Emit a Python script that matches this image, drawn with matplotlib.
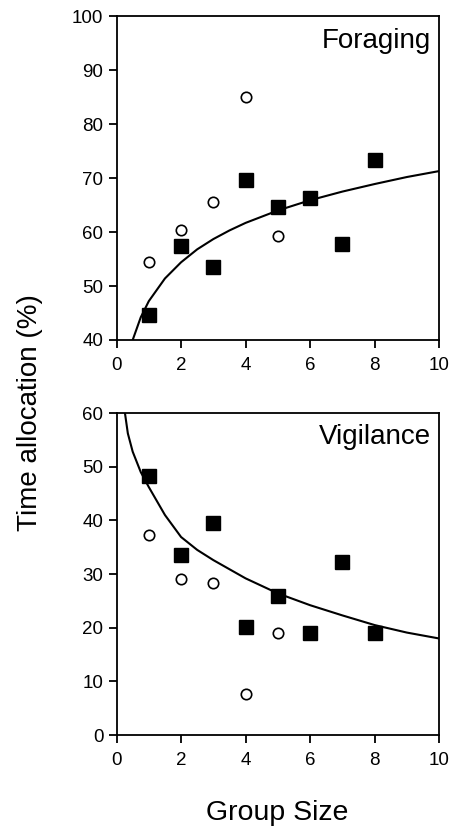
import matplotlib

matplotlib.use("Agg")
import matplotlib.pyplot as plt

plt.rcParams["font.family"] = ["Liberation Sans", "DejaVu Sans"]

group_size = [1, 2, 3, 4, 5, 6, 7, 8]
circle_size = [1, 2, 3, 4, 5]

forage_squares = [44.6, 57.4, 53.6, 69.6, 64.7, 66.4, 57.7, 73.3]
forage_circles = [54.4, 60.4, 65.5, 85.0, 59.2]
forage_curve_x = [0.5, 0.75, 1, 1.5, 2, 2.5, 3, 3.5, 4, 5, 6, 7, 8, 9, 10]
forage_curve_y = [40.0, 44.2, 47.2, 51.4, 54.4, 56.8, 58.7, 60.3, 61.7, 64.0, 65.9, 67.5, 68.9, 70.2, 71.3]

vigil_squares = [48.3, 33.6, 39.6, 20.2, 25.9, 19.0, 32.3, 19.0]
vigil_circles = [37.2, 29.0, 28.4, 7.6, 19.0]
vigil_curve_x = [0.26, 0.35, 0.5, 0.75, 1, 1.5, 2, 2.5, 3, 4, 5, 6, 7, 8, 9, 10]
vigil_curve_y = [60.0, 56.2, 52.8, 49.0, 46.2, 41.0, 36.9, 34.5, 32.6, 29.2, 26.4, 24.2, 22.3, 20.5, 19.1, 18.0]

figure = plt.figure(figsize=(4.5, 8.26), dpi=100)
top = figure.add_axes([0.259, 0.5884, 0.717, 0.392])
bottom = figure.add_axes([0.259, 0.110, 0.717, 0.390])

panels = [
    (top, forage_squares, forage_circles, forage_curve_x, forage_curve_y, (40, 100), "Foraging"),
    (bottom, vigil_squares, vigil_circles, vigil_curve_x, vigil_curve_y, (0, 60), "Vigilance"),
]

for axis, squares, circles, cx, cy, ylim, title in panels:
    axis.plot(cx, cy, color="black", linewidth=1.5, zorder=2)
    axis.plot(group_size, squares, linestyle="none", marker="s", markersize=9.5,
              color="black", zorder=3)
    axis.plot(circle_size, circles, linestyle="none", marker="o", markersize=7.5,
              markerfacecolor="white", markeredgecolor="black", markeredgewidth=1.2, zorder=3)
    axis.set_xlim(0, 10)
    axis.set_ylim(*ylim)
    axis.set_xticks([0, 2, 4, 6, 8, 10])
    axis.set_yticks(range(ylim[0], ylim[1] + 1, 10))
    axis.tick_params(direction="out", length=6, width=1.3, labelsize=13.5, top=False, right=False)
    axis.tick_params(axis="x", pad=6)
    for spine in axis.spines.values():
        spine.set_linewidth(1.3)
    axis.text(0.975, 0.965, title, transform=axis.transAxes, ha="right", va="top", fontsize=20)

figure.text(0.067, 0.5, "Time allocation (%)", rotation=90, ha="center", va="center", fontsize=20)
figure.text(0.616, 0.016, "Group Size", ha="center", va="center", fontsize=20.5)

figure.savefig("out.png", dpi=100)
plt.close(figure)
